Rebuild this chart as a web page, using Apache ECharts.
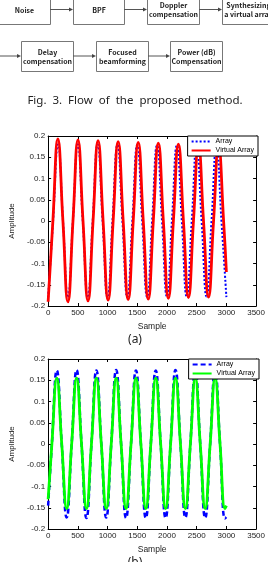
<!DOCTYPE html>
<html>
<head>
<meta charset="utf-8">
<script src="https://cdn.jsdelivr.net/npm/echarts@6/dist/echarts.min.js"></script>
<style>
html,body{margin:0;padding:0;background:#fff;}
#main{width:268px;height:562px;}
</style>
</head>
<body>
<div id="main"></div>
<script>
//流程图文字
var flowLabels = ['Noise', 'BPF', 'Doppler\ncompensation', 'Synthesizing\na virtual array',
	'Delay\ncompensation', 'Focused\nbeamforming', 'Power (dB)\nCompensation'];
var figCaption = 'Fig.  3.  Flow  of  the  proposed  method.';
var subCaptions = ['(a)', '(b)'];
var legendNames = ['Array', 'Virtual Array'];

//(a) Array  [sample, amplitude]
var arrayA = [[0,-0.18],[83,0],[167,0.18],[250,0],[333,-0.18],[417,0],[500,0.18],[583,0],[667,-0.18],
	[750,0],[833,0.18],[917,0],[1000,-0.18],[1083,0],[1167,0.179],[1250,0],[1333,-0.179],
	[1417,0],[1500,0.179],[1583,0],[1667,-0.179],[1750,0],[1833,0.178],[1917,0],[2000,-0.178],
	[2083,0],[2167,0.178],[2250,0],[2333,-0.178],[2417,0],[2500,0.177],[2583,0],[2667,-0.178],
	[2750,0],[2833,0.177],[2917,0],[3000,-0.179]];
//(a) Virtual Array
var virtualA = [[0,-0.19],[80,0],[164,0.193],[249,0],[333,-0.19],[418,0],[502,0.191],[587,0],[671,-0.188],
	[756,0],[840,0.189],[925,0],[1009,-0.186],[1094,0],[1178,0.187],[1263,0],[1347,-0.185],
	[1432,0],[1516,0.185],[1601,0],[1685,-0.184],[1770,0],[1854,0.183],[1939,0],[2023,-0.182],
	[2108,0],[2192,0.181],[2277,0],[2361,-0.18],[2446,0],[2530,0.179],[2615,0],[2699,-0.179],
	[2784,0],[2868,0.177],[2953,0],[3000,-0.12]];
//(b) Array
var arrayB = [[0,-0.145],[63,0],[146,0.173],[229,0],[312,-0.173],[396,0],[479,0.174],[562,0],[645,-0.174],
	[729,0],[812,0.173],[895,0],[978,-0.173],[1062,0],[1145,0.174],[1228,0],[1311,-0.174],
	[1395,0],[1478,0.173],[1561,0],[1644,-0.174],[1728,0],[1811,0.173],[1894,0],[1977,-0.174],
	[2061,0],[2144,0.174],[2227,0],[2310,-0.173],[2394,0],[2477,0.173],[2560,0],[2643,-0.174],
	[2727,0],[2810,0.173],[2893,0],[2976,-0.175],[3000,-0.172]];
//(b) Virtual Array
var virtualB = [[0,-0.13],[63,0],[146,0.155],[229,0],[312,-0.152],[396,0],[479,0.155],[562,0],[645,-0.152],
	[729,0],[812,0.155],[895,0],[978,-0.152],[1062,0],[1145,0.155],[1228,0],[1311,-0.152],
	[1395,0],[1478,0.155],[1561,0],[1644,-0.152],[1728,0],[1811,0.155],[1894,0],[1977,-0.152],
	[2061,0],[2144,0.155],[2227,0],[2310,-0.152],[2394,0],[2477,0.155],[2560,0],[2643,-0.152],
	[2727,0],[2810,0.155],[2893,0],[2976,-0.152],[3000,-0.145]];

var fontEn = '"Liberation Sans", Arial, sans-serif';
var fontBox = '"Noto Sans CJK KR", "Noto Sans", sans-serif';

//方框位置 [x, y, w, h]
var boxPos = [[-2,-6,52,30],[73,-6,51,30],[147,-6,52,30],[222,-6,52,30],
	[21,41,52,30],[96,41,52,30],[170,41,52,30]];
//箭头 [x1, x2, y]
var arrowPos = [[50,73,9.5],[124,147,9.5],[199,222,9.5],[0,21,56],[73,96,56],[148,170,56]];

function buildFlow(){
	var els = [];
	for(var i=0;i<boxPos.length;i++){
		var b = boxPos[i];
		els.push({type:'rect', shape:{x:b[0]+0.5, y:b[1]+0.5, width:b[2], height:b[3]},
			style:{fill:'#fff', stroke:'#777', lineWidth:1}, z:10});
		els.push({type:'text', z:11, style:{text:flowLabels[i], x:b[0]+b[2]/2+0.5, y:b[1]+b[3]/2+1,
			textAlign:'center', textVerticalAlign:'middle', fill:'#222', lineHeight:9,
			font:'bold 7px ' + fontBox}});
	}
	for(var j=0;j<arrowPos.length;j++){
		var a = arrowPos[j];
		els.push({type:'line', z:10, shape:{x1:a[0], y1:a[2], x2:a[1]-3, y2:a[2]},
			style:{stroke:'#555', lineWidth:1}});
		els.push({type:'polygon', z:10, shape:{points:[[a[1]-4,a[2]-2],[a[1],a[2]],[a[1]-4,a[2]+2]]},
			style:{fill:'#444'}});
	}
	els.push({type:'text', z:11, style:{text:figCaption, x:135, y:101, textAlign:'center',
		textVerticalAlign:'middle', fill:'#222', font:'11.5px "Noto Sans", sans-serif'}});
	els.push({type:'text', z:11, style:{text:subCaptions[0], x:135, y:340, textAlign:'center',
		textVerticalAlign:'middle', fill:'#222', font:'12px "Noto Sans", sans-serif'}});
	els.push({type:'text', z:11, style:{text:subCaptions[1], x:135, y:563, textAlign:'center',
		textVerticalAlign:'middle', fill:'#222', font:'12px "Noto Sans", sans-serif'}});
	return els;
}

function xAxisOf(gi, top){
	return {
		type:'value', gridIndex:gi, min:0, max:3500, interval:500,
		position: top ? 'top' : 'bottom',
		name: top ? '' : 'Sample', nameLocation:'middle', nameGap:16,
		nameTextStyle:{fontSize:8.5, color:'#222', fontFamily:fontEn},
		axisLine:{show:true, onZero:false, lineStyle:{color:'#000', width:1}},
		axisTick:{show:true, inside:true, length:3, lineStyle:{color:'#000'}},
		axisLabel:{show:!top, fontSize:8, color:'#222', margin:3, fontFamily:fontEn,
			formatter:function(v){ return String(v); }},
		splitLine:{show:false}
	};
}
function yAxisOf(gi, right){
	return {
		type:'value', gridIndex:gi, min:-0.2, max:0.2, interval:0.05,
		position: right ? 'right' : 'left',
		name: right ? '' : 'Amplitude', nameLocation:'middle', nameGap:24,
		nameTextStyle:{fontSize:8, color:'#222', fontFamily:fontEn},
		axisLine:{show:true, onZero:false, lineStyle:{color:'#000', width:1}},
		axisTick:{show:true, inside:true, length:3, lineStyle:{color:'#000'}},
		axisLabel:{show:!right, fontSize:8, color:'#222', margin:3, fontFamily:fontEn},
		splitLine:{show:false}
	};
}
function legendOf(right, top, names){
	return {
		data:names, orient:'vertical', right:right, top:top, selectedMode:false,
		itemWidth:19, itemHeight:8, itemGap:2, padding:[2,4,2,3],
		borderColor:'#000', borderWidth:1, borderRadius:0, backgroundColor:'#fff',
		itemStyle:{opacity:0},
		formatter:function(n){ return n.replace(' (b)',''); },
		textStyle:{fontSize:7, color:'#000', fontFamily:fontEn}
	};
}
function lineSeries(name, data, gi, color, width, type){
	return {
		name:name, type:'line', xAxisIndex:gi*2, yAxisIndex:gi*2, data:data,
		smooth:true, symbol:'none', showSymbol:false,
		itemStyle:{color:color},
		lineStyle:{color:color, width:width, type:type}
	};
}

var chart = echarts.init(document.getElementById('main'));
var option = {
	animation:false,
	backgroundColor:'#fff',
	grid:[
		{left:34, top:136, width:224, height:170},
		{left:35, top:359, width:224, height:170}
	],
	xAxis:[xAxisOf(0,false), xAxisOf(0,true), xAxisOf(1,false), xAxisOf(1,true)],
	yAxis:[yAxisOf(0,false), yAxisOf(0,true), yAxisOf(1,false), yAxisOf(1,true)],
	legend:[
		legendOf(10, 136, legendNames),
		legendOf(9, 359, [legendNames[0]+' (b)', legendNames[1]+' (b)'])
	],
	series:[
		lineSeries(legendNames[0], arrayA, 0, '#0000ff', 2, 'dotted'),
		lineSeries(legendNames[1], virtualA, 0, '#ff0000', 2.8, 'solid'),
		lineSeries(legendNames[0]+' (b)', arrayB, 1, '#0000ff', 2.5, [5,3]),
		lineSeries(legendNames[1]+' (b)', virtualB, 1, '#00ff00', 2.8, 'solid')
	],
	graphic:buildFlow()
};
chart.setOption(option);
</script>
</body>
</html>
